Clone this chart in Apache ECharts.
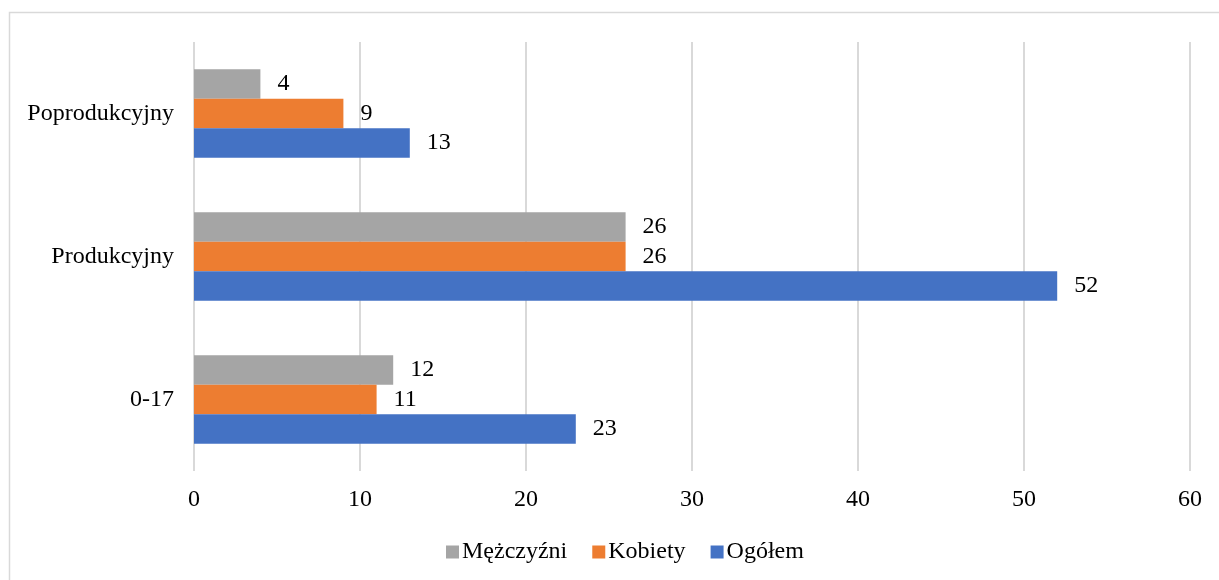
<!DOCTYPE html>
<html lang="pl">

<head>
    <meta charset="UTF-8">
    <title>Wykres</title>
    <style>
        html, body { margin: 0; padding: 0; background: #fff; }
    </style>
</head>

<body>
    <div id="main" style="width:1219px;height:580px;"></div>
    <script src="https://cdn.jsdelivr.net/npm/echarts@6/dist/echarts.min.js"></script>
    <script>
        // dane z wykresu
        var kategorie = ['0-17', 'Produkcyjny', 'Poprodukcyjny'];
        var ogolem = [23, 52, 13];
        var kobiety = [11, 26, 9];
        var mezczyzni = [12, 26, 4];
        var osX = { min: 0, max: 60, interval: 10 };

        var font = '"Liberation Serif", "Times New Roman", serif';
        var myChart = echarts.init(document.getElementById('main'));

        function seria(name, color, data) {
            return {
                name: name,
                type: 'bar',
                barWidth: 29.5,
                barGap: '0%',
                itemStyle: { color: color },
                label: {
                    show: true,
                    position: 'right',
                    distance: 17,
                    color: '#000',
                    fontFamily: font,
                    fontSize: 24
                },
                data: data
            };
        }

        var option = {
            animation: false,
            textStyle: { fontFamily: font },
            graphic: [{
                type: 'rect',
                shape: { x: 9.5, y: 12.5, width: 1240, height: 620 },
                style: { fill: 'none', stroke: '#D9D9D9', lineWidth: 1.5 },
                silent: true
            }],
            grid: {
                left: 194,
                right: 29,
                top: 42,
                bottom: 109
            },
            legend: {
                data: ['Mężczyźni', 'Kobiety', 'Ogółem'],
                bottom: 11,
                left: 441,
                itemWidth: 13,
                itemHeight: 13,
                itemGap: 25,
                icon: 'rect',
                textStyle: { fontFamily: font, fontSize: 24, color: '#000', padding: [0, 0, 0, -2] }
            },
            xAxis: {
                type: 'value',
                min: osX.min,
                max: osX.max,
                interval: osX.interval,
                axisLine: { show: false },
                axisTick: { show: false },
                axisLabel: { color: '#000', fontFamily: font, fontSize: 24, margin: 17 },
                splitLine: { show: true, lineStyle: { color: '#D9D9D9', width: 2 } }
            },
            yAxis: {
                type: 'category',
                data: kategorie,
                axisLine: { show: false },
                axisTick: { show: false },
                axisLabel: { color: '#000', fontFamily: font, fontSize: 24, margin: 20 }
            },
            // pierwsza seria rysuje się u góry grupy
            series: [
                seria('Mężczyźni', '#A5A5A5', mezczyzni),
                seria('Kobiety', '#ED7D31', kobiety),
                seria('Ogółem', '#4472C4', ogolem)
            ]
        };

        myChart.setOption(option);
    </script>
</body>

</html>
